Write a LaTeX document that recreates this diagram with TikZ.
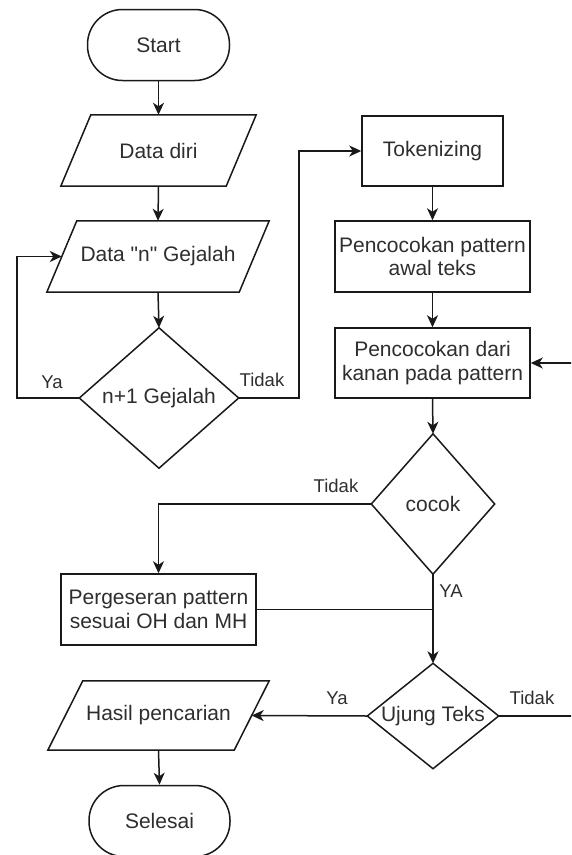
\documentclass[tikz,border=0pt]{standalone}
\usepackage{fontspec}
\setmainfont{Liberation Sans}[Ligatures=TeXOff]
\usetikzlibrary{arrows.meta}
\begin{document}
\begin{tikzpicture}[x=1pt,y=-1pt,
  every node/.style={font=\fontsize{21}{23.5}\selectfont, text=black!82, inner sep=0pt, align=center},
  ln/.style={line width=1.5pt, draw=black!90},
  arr/.style={ln, -{Stealth[length=12pt,width=11pt,inset=3.5pt]}},
  term/.style={ln, rounded corners=35pt, minimum width=142pt, minimum height=71pt},
  proc/.style={ln, minimum width=195pt, minimum height=71pt},
  lbl/.style={font=\fontsize{18.5}{20}\selectfont}
]
\useasboundingbox (0,0) rectangle (571,855);
\clip (0,0) rectangle (571,855);

% nodes
\node[term] (start) at (158.5,45) {Start};
\node[minimum width=195pt, minimum height=71pt] (dd) at (158.5,150.5) {Data diri};
\draw[ln] ([xshift=30pt]dd.north west) -- (dd.north east) -- ([xshift=-30pt]dd.south east) -- (dd.south west) -- cycle;
\node[minimum width=222pt, minimum height=71pt] (dn) at (158,256.5) {Data "n" Gejalah};
\draw[ln] ([xshift=30pt]dn.north west) -- (dn.north east) -- ([xshift=-30pt]dn.south east) -- (dn.south west) -- cycle;
\node[minimum width=159pt, minimum height=140pt] (g1) at (159,398) {n+1 Gejalah};
\draw[ln] (g1.north) -- (g1.east) -- (g1.south) -- (g1.west) -- cycle;

\node[ln, minimum width=141pt, minimum height=70pt] (tok) at (432.5,151) {Tokenizing};
\node[proc] (pp) at (432.5,256.5) {Pencocokan pattern\\awal teks};
\node[proc, minimum height=70pt] (pk) at (432.5,363) {Pencocokan dari\\kanan pada pattern};
\node[minimum width=123pt, minimum height=140pt] (cc) at (433,504) {cocok};
\draw[ln] (cc.north) -- (cc.east) -- (cc.south) -- (cc.west) -- cycle;
\node[proc] (pg) at (158.5,609.5) {Pergeseran pattern\\sesuai OH dan MH};
\node[minimum width=131pt, minimum height=105pt] (uj) at (433,716) {Ujung Teks};
\draw[ln] (uj.north) -- (uj.east) -- (uj.south) -- (uj.west) -- cycle;
\node[minimum width=221pt, minimum height=69pt] (hp) at (158.5,715.5) {Hasil pencarian};
\draw[ln] ([xshift=35pt]hp.north west) -- (hp.north east) -- ([xshift=-35pt]hp.south east) -- (hp.south west) -- cycle;
\node[term, minimum width=141pt] (sl) at (159.5,821) {Selesai};

% helper coordinates
\coordinate (yaL) at (17,398);
\coordinate (tdR) at (299,398);
\coordinate (rE) at (590,716);

% connectors
\draw[arr] (start.south) -- (dd.north);
\draw[arr] (dd.south) -- (dn.north);
\draw[arr] (dn.south) -- (g1.north);
\draw[arr] (g1.west) -- (yaL) |- ([xshift=15pt]dn.west);
\draw[arr] (g1.east) -- (tdR) |- (tok.west);
\draw[arr] (tok.south) -- (pp.north);
\draw[arr] (pp.south) -- (pk.north);
\draw[arr] (pk.south) -- (cc.north);
\draw[arr] (cc.west) -| (pg.north);
\draw[ln] (pg.east) -- (pg.east -| cc.south);
\draw[arr] (cc.south) -- (uj.north);
\draw[arr] (uj.west) -- ([xshift=-17.5pt]hp.east);
\draw[arr] (uj.east) -- (rE) |- (pk.east);
\draw[arr] (hp.south) -- (sl.north);

% labels
\node[lbl] (lya1) at (52,382) {Ya};
\node[lbl] (ltd1) at (262,380) {Tidak};
\node[lbl] (ltd2) at (336,486) {Tidak};
\node[lbl] (lya2) at (451,591) {YA};
\node[lbl] (lya3) at (337,698) {Ya};
\node[lbl] (ltd3) at (532,698) {Tidak};
\end{tikzpicture}
\end{document}
